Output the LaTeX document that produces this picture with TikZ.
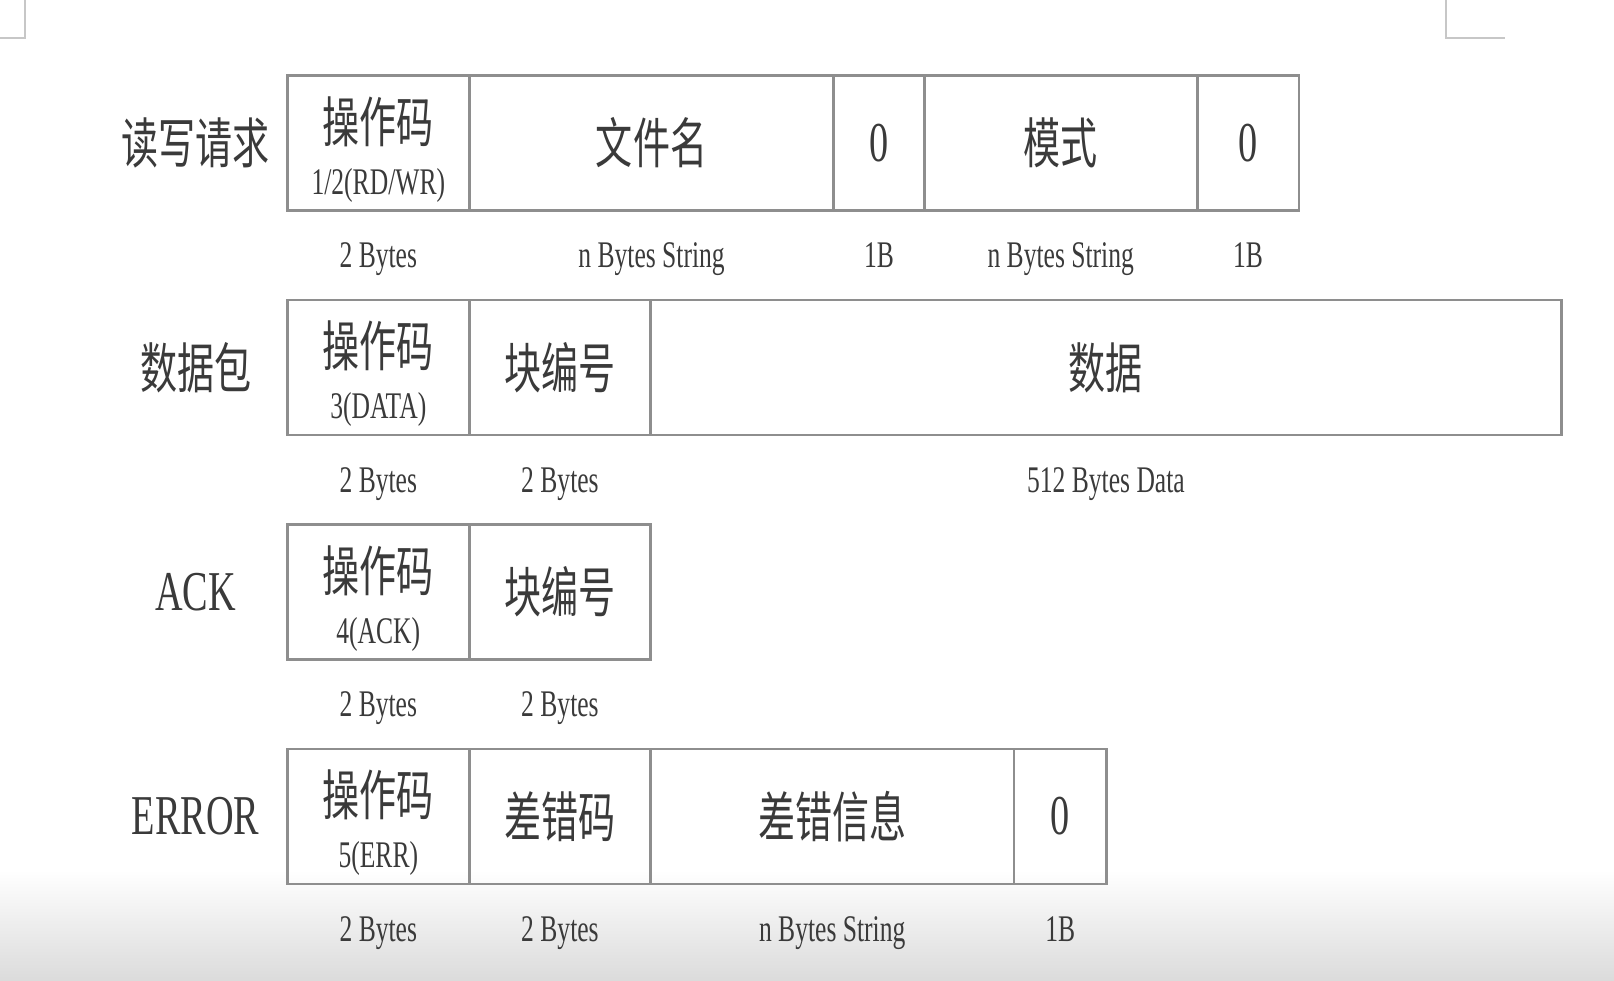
\documentclass[tikz,border=0pt]{standalone}
\usepackage{fontspec}
\setmainfont{Liberation Serif}[FakeStretch=0.68]
\newfontfamily\cjk{Noto Sans CJK SC}[FakeStretch=0.68]
\usetikzlibrary{positioning}
\definecolor{rule}{HTML}{8E8E8E}
\definecolor{ink}{HTML}{3A3A3A}
\newcommand\bigcjk{\cjk\fontsize{15.5}{18}\selectfont}
\newcommand\bigrm{\rmfamily\fontsize{16}{18}\selectfont}
\newcommand\smallrm{\rmfamily\fontsize{10.7}{12}\selectfont}
\newcommand\opstrut{\rule{0pt}{5.8mm}}

\begin{document}
\begin{tikzpicture}[field/.style={draw=rule,line width=.8pt,outer sep=0pt,inner sep=0pt,minimum height=13.5mm,align=center,text=ink,font=\bigcjk},size/.style={anchor=center,inner sep=0pt,text height=.69em,text depth=.22em,text=ink,font=\smallrm},tag/.style={anchor=center,inner sep=0pt,text=ink}]
\useasboundingbox (0,0) rectangle (16.14,-9.80);
\shade[top color=white,bottom color=black!14] (0,-8.70) rectangle (16.14,-9.80);
% page corner marks
\draw[black!22,line width=.5pt] (0,-0.38) -- (0.247,-0.38) -- (0.247,0);
\draw[black!22,line width=.5pt] (14.46,0) -- (14.46,-0.38) -- (15.05,-0.38);

% read / write request
\node[field,minimum width=18.22mm] (rwop) at (3.783,-1.43) {\opstrut{}操作码\\[-3.2pt]{\smallrm 1/2(RD/WR)}};
\node[field,minimum width=36.43mm,right=0pt of rwop] (rwname) {文件名};
\node[field,minimum width=9.06mm,right=0pt of rwname] (rwzero) {\bigrm 0};
\node[field,minimum width=27.28mm,right=0pt of rwzero] (rwmode) {模式};
\node[field,minimum width=10.19mm,right=0pt of rwmode] (rwend) {\bigrm 0};
\node[left=9.16mm of rwop,tag,font=\bigcjk] (rwtag) {读写请求};
\node[below=4.9mm of rwop,size] (rwopsz) {2 Bytes};
\node[below=4.9mm of rwname,size] (rwnamesz) {n Bytes String};
\node[below=4.9mm of rwzero,size] (rwzerosz) {1B};
\node[below=4.9mm of rwmode,size] (rwmodesz) {n Bytes String};
\node[below=4.9mm of rwend,size] (rwendsz) {1B};

% data packet
\node[field,minimum width=18.22mm,below=8.95mm of rwop] (dtop) {\opstrut{}操作码\\[-3.2pt]{\smallrm 3(DATA)}};
\node[field,minimum width=18.11mm,right=0pt of dtop] (dtblk) {块编号};
\node[field,minimum width=91.09mm,right=0pt of dtblk] (dtdata) {数据};
\node[left=9.16mm of dtop,tag,font=\bigcjk] (dttag) {数据包};
\node[below=4.9mm of dtop,size] (dtopsz) {2 Bytes};
\node[below=4.9mm of dtblk,size] (dtblksz) {2 Bytes};
\node[below=4.9mm of dtdata,size] (dtdatasz) {512 Bytes Data};

% ack
\node[field,minimum width=18.22mm,below=8.95mm of dtop] (ackop) {\opstrut{}操作码\\[-3.2pt]{\smallrm 4(ACK)}};
\node[field,minimum width=18.11mm,right=0pt of ackop] (ackblk) {块编号};
\node[left=9.16mm of ackop,tag,font=\bigrm] (acktag) {ACK};
\node[below=4.9mm of ackop,size] (ackopsz) {2 Bytes};
\node[below=4.9mm of ackblk,size] (ackblksz) {2 Bytes};

% error
\node[field,minimum width=18.22mm,below=8.95mm of ackop] (errop) {\opstrut{}操作码\\[-3.2pt]{\smallrm 5(ERR)}};
\node[field,minimum width=18.11mm,right=0pt of errop] (errcode) {差错码};
\node[field,minimum width=36.34mm,right=0pt of errcode] (errmsg) {差错信息};
\node[field,minimum width=9.26mm,right=0pt of errmsg] (errend) {\bigrm 0};
\node[left=9.16mm of errop,tag,font=\bigrm] (errtag) {ERROR};
\node[below=4.9mm of errop,size] (erropsz) {2 Bytes};
\node[below=4.9mm of errcode,size] (errcodesz) {2 Bytes};
\node[below=4.9mm of errmsg,size] (errmsgsz) {n Bytes String};
\node[below=4.9mm of errend,size] (errendsz) {1B};
\end{tikzpicture}
\end{document}
